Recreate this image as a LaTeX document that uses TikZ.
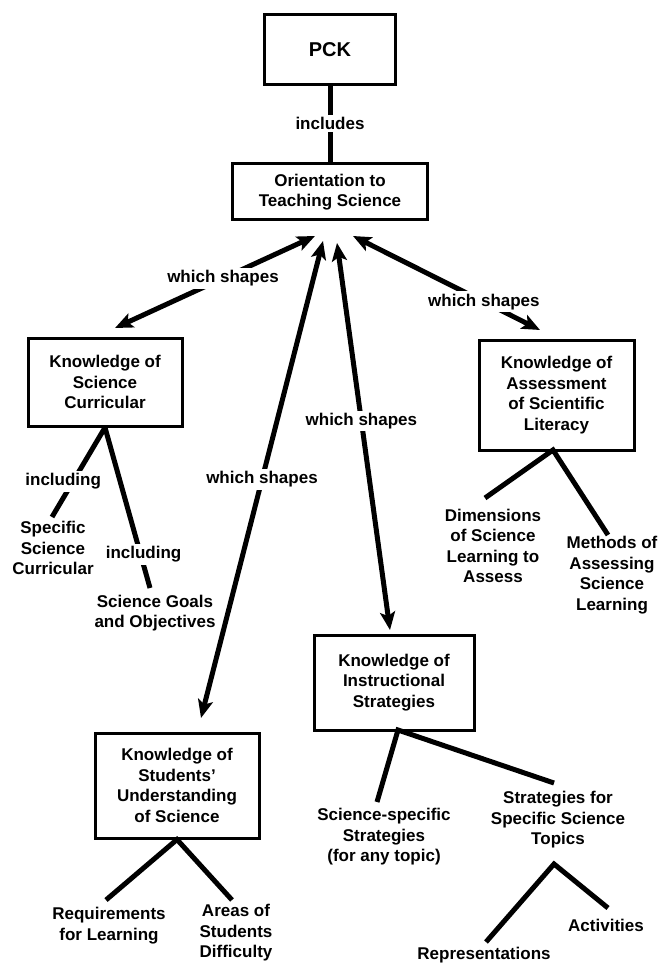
\documentclass[tikz,border=0pt]{standalone}
\usepackage{fontspec}
\setmainfont{Liberation Sans}
\usetikzlibrary{arrows.meta}
\begin{document}
\begin{tikzpicture}[x=1pt,y=-1pt,
  every node/.style={font=\bfseries\fontsize{17}{20.5}\selectfont, align=center, inner sep=0pt},
  box/.style={draw, line width=3pt, fill=white},
  conn/.style={line width=5pt},
  dbl/.style={conn, {Stealth[length=18pt,width=15pt,inset=4pt]}-{Stealth[length=18pt,width=15pt,inset=4pt]}},
  lbl/.style={fill=white, inner sep=2.5pt}
]
\useasboundingbox (0,0) rectangle (661,965);

% boxes
\node[box, minimum width=131pt, minimum height=70pt, font=\bfseries\fontsize{20}{24}\selectfont] (pck) at (330,50) {PCK};
\node[box, minimum width=195pt, minimum height=56pt] (orient) at (330,192) {Orientation to\\Teaching Science};
\node[box, minimum width=154pt, minimum height=88pt] (cur) at (105,382) {Knowledge of\\Science\\Curricular};
\node[box, minimum width=155pt, minimum height=110pt] (ass) at (556.5,395) {Knowledge of\\Assessment\\of Scientific\\Literacy};
\node[box, minimum width=160pt, minimum height=95pt] (ins) at (394,682.5) {Knowledge of\\Instructional\\Strategies};
\node[box, minimum width=164pt, minimum height=105pt] (stu) at (177,785.5) {Knowledge of\\Students'\\Understanding\\of Science};

% leaf texts
\node (spec) at (53,548) {Specific\\Science\\Curricular};
\node (goals) at (155,613) {Science Goals\\and Objectives};
\node (dims) at (493,546) {Dimensions\\of Science\\Learning to\\Assess};
\node (meth) at (612,575) {Methods of\\Assessing\\Science\\Learning};
\node (req) at (109,925.5) {Requirements\\for Learning};
\node (areas) at (236,933) {Areas of\\Students\\Difficulty};
\node (ssci) at (384,837) {Science-specific\\Strategies\\(for any topic)};
\node (sst) at (558,820) {Strategies for\\Specific Science\\Topics};
\node (act) at (606,925) {Activities};
\node (rep) at (484,955) {Representations};

% arrow ends around the orientation box
\coordinate (tA) at (315,236);
\coordinate (tB) at (323,241);
\coordinate (tC) at (337,243);
\coordinate (tD) at (353,236);
\coordinate (hCur) at (115,328);
\coordinate (hStu) at (201,718);
\coordinate (hIns) at (390,630);
\coordinate (hAss) at (540,330);

% branch ends
\coordinate (cur1) at (52,517);
\coordinate (cur2) at (150,588);
\coordinate (ass0) at (553,450);
\coordinate (ass1) at (485,498);
\coordinate (ass2) at (608,535);
\coordinate (stu1) at (106,900);
\coordinate (stu2) at (232,900);
\coordinate (ins0) at (398,730);
\coordinate (ins1) at (377,802);
\coordinate (ins2) at (554,783);
\coordinate (apex) at (554,864);
\coordinate (rep1) at (486,942);
\coordinate (act1) at (608,908);

% connectors
\draw[conn] (pck.south) -- node[lbl, pos=0.49] {includes} (orient.north);
\draw[dbl] (tA) -- node[lbl, pos=0.46] {which shapes} (hCur);
\draw[dbl] (tD) -- node[lbl, pos=0.7] {which shapes} (hAss);
\draw[dbl] (tB) -- node[lbl, pos=0.5] {which shapes} (hStu);
\draw[dbl] (tC) -- node[lbl, pos=0.46] {which shapes} (hIns);

\draw[conn] (cur.south) -- node[lbl, pos=0.6, xshift=-10pt] {including} (cur1);
\draw[conn] (cur.south) -- node[lbl, pos=0.79, xshift=3pt] {including} (cur2);
\draw[conn] (ass1) -- (ass0) -- (ass2);
\draw[conn] (stu1) -- (stu.south) -- (stu2);
\draw[conn] (ins1) -- (ins0) -- (ins2);
\draw[conn] (rep1) -- (apex) -- (act1);
\end{tikzpicture}
\end{document}
